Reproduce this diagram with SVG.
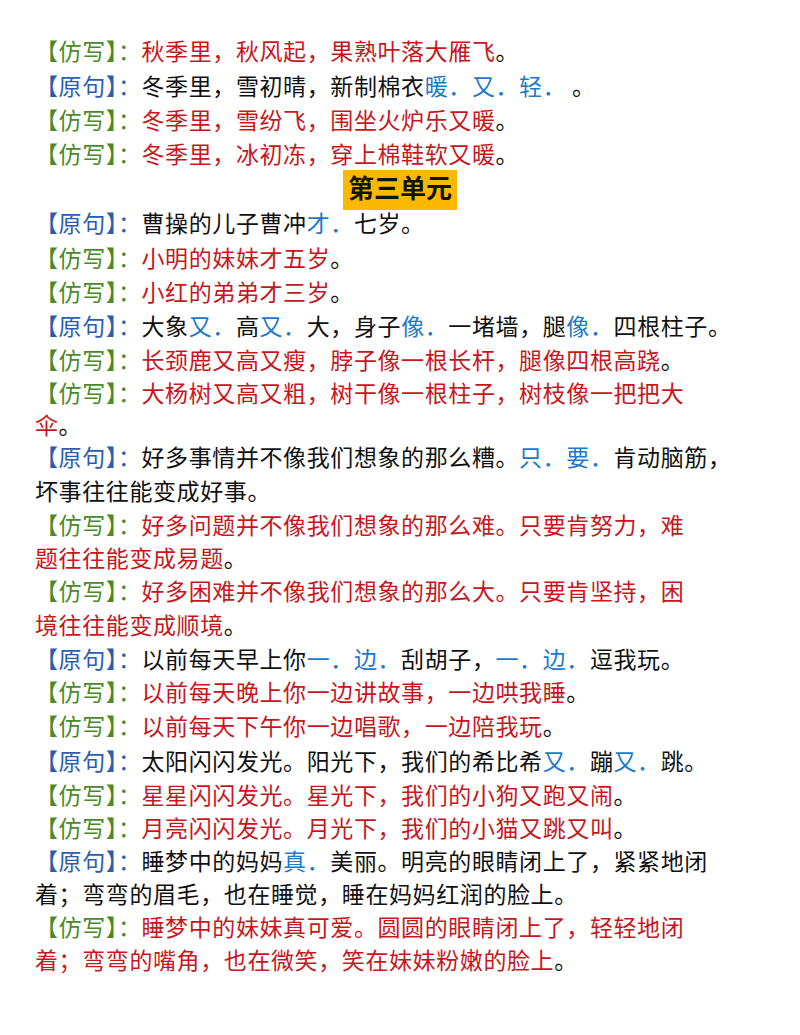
<svg xmlns="http://www.w3.org/2000/svg" width="800" height="1035" viewBox="0 0 800 1035">
<style>
text{font-family:"Noto Sans CJK SC",sans-serif;font-size:23px;letter-spacing:0.6px;fill:#111}
.g{fill:#4a8a2a}.b{fill:#2a5db0}.r{fill:#c8161d}.u{fill:#1e78c8}
.h{font-size:26px;font-weight:bold;letter-spacing:0}
</style>
<rect width="800" height="1035" fill="#fff"/>
<g id="lines">
<text x="35" y="60"><tspan class="g">【仿写】：</tspan><tspan class="r">秋季里，秋风起，果熟叶落大雁飞</tspan>。</text>
<text x="35" y="95"><tspan class="b">【原句】：</tspan>冬季里，雪初晴，新制棉衣<tspan class="u">暖．又．轻．</tspan> 。</text>
<text x="35" y="129"><tspan class="g">【仿写】：</tspan><tspan class="r">冬季里，雪纷飞，围坐火炉乐又暖</tspan>。</text>
<text x="35" y="163"><tspan class="g">【仿写】：</tspan><tspan class="r">冬季里，冰初冻，穿上棉鞋软又暖</tspan>。</text>
<g id="heading"><rect x="343" y="170" width="114" height="40" fill="#fbb800"/><text class="h" x="400" y="198" text-anchor="middle">第三单元</text></g>
<text x="35" y="232"><tspan class="b">【原句】：</tspan>曹操的儿子曹冲<tspan class="u">才．</tspan>七岁。</text>
<text x="35" y="267"><tspan class="g">【仿写】：</tspan><tspan class="r">小明的妹妹才五岁</tspan>。</text>
<text x="35" y="301"><tspan class="g">【仿写】：</tspan><tspan class="r">小红的弟弟才三岁</tspan>。</text>
<text x="35" y="335"><tspan class="b">【原句】：</tspan>大象<tspan class="u">又．</tspan>高<tspan class="u">又．</tspan>大，身子<tspan class="u">像．</tspan>一堵墙，腿<tspan class="u">像．</tspan>四根柱子。</text>
<text x="35" y="369"><tspan class="g">【仿写】：</tspan><tspan class="r">长颈鹿又高又瘦，脖子像一根长杆，腿像四根高跷</tspan>。</text>
<text x="35" y="402"><tspan class="g">【仿写】：</tspan><tspan class="r">大杨树又高又粗，树干像一根柱子，树枝像一把把大</tspan></text>
<text x="35" y="434"><tspan class="r">伞</tspan>。</text>
<text x="35" y="466"><tspan class="b">【原句】：</tspan>好多事情并不像我们想象的那么糟。<tspan class="u">只．要．</tspan>肯动脑筋，</text>
<text x="35" y="500">坏事往往能变成好事。</text>
<text x="35" y="534"><tspan class="g">【仿写】：</tspan><tspan class="r">好多问题并不像我们想象的那么难。只要肯努力，难</tspan></text>
<text x="35" y="567"><tspan class="r">题往往能变成易题</tspan>。</text>
<text x="35" y="600"><tspan class="g">【仿写】：</tspan><tspan class="r">好多困难并不像我们想象的那么大。只要肯坚持，困</tspan></text>
<text x="35" y="634"><tspan class="r">境往往能变成顺境</tspan>。</text>
<text x="35" y="668"><tspan class="b">【原句】：</tspan>以前每天早上你<tspan class="u">一．边．</tspan>刮胡子，<tspan class="u">一．边．</tspan>逗我玩。</text>
<text x="35" y="701"><tspan class="g">【仿写】：</tspan><tspan class="r">以前每天晚上你一边讲故事，一边哄我睡</tspan>。</text>
<text x="35" y="735"><tspan class="g">【仿写】：</tspan><tspan class="r">以前每天下午你一边唱歌，一边陪我玩</tspan>。</text>
<text x="35" y="770"><tspan class="b">【原句】：</tspan>太阳闪闪发光。阳光下，我们的希比希<tspan class="u">又．</tspan>蹦<tspan class="u">又．</tspan>跳。</text>
<text x="35" y="804"><tspan class="g">【仿写】：</tspan><tspan class="r">星星闪闪发光。星光下，我们的小狗又跑又闹</tspan>。</text>
<text x="35" y="837"><tspan class="g">【仿写】：</tspan><tspan class="r">月亮闪闪发光。月光下，我们的小猫又跳又叫</tspan>。</text>
<text x="35" y="870"><tspan class="b">【原句】：</tspan>睡梦中的妈妈<tspan class="u">真．</tspan>美丽。明亮的眼睛闭上了，紧紧地闭</text>
<text x="35" y="903">着；弯弯的眉毛，也在睡觉，睡在妈妈红润的脸上。</text>
<text x="35" y="936"><tspan class="g">【仿写】：</tspan><tspan class="r">睡梦中的妹妹真可爱。圆圆的眼睛闭上了，轻轻地闭</tspan></text>
<text x="35" y="969"><tspan class="r">着；弯弯的嘴角，也在微笑，笑在妹妹粉嫩的脸上</tspan>。</text>
</g>
</svg>
